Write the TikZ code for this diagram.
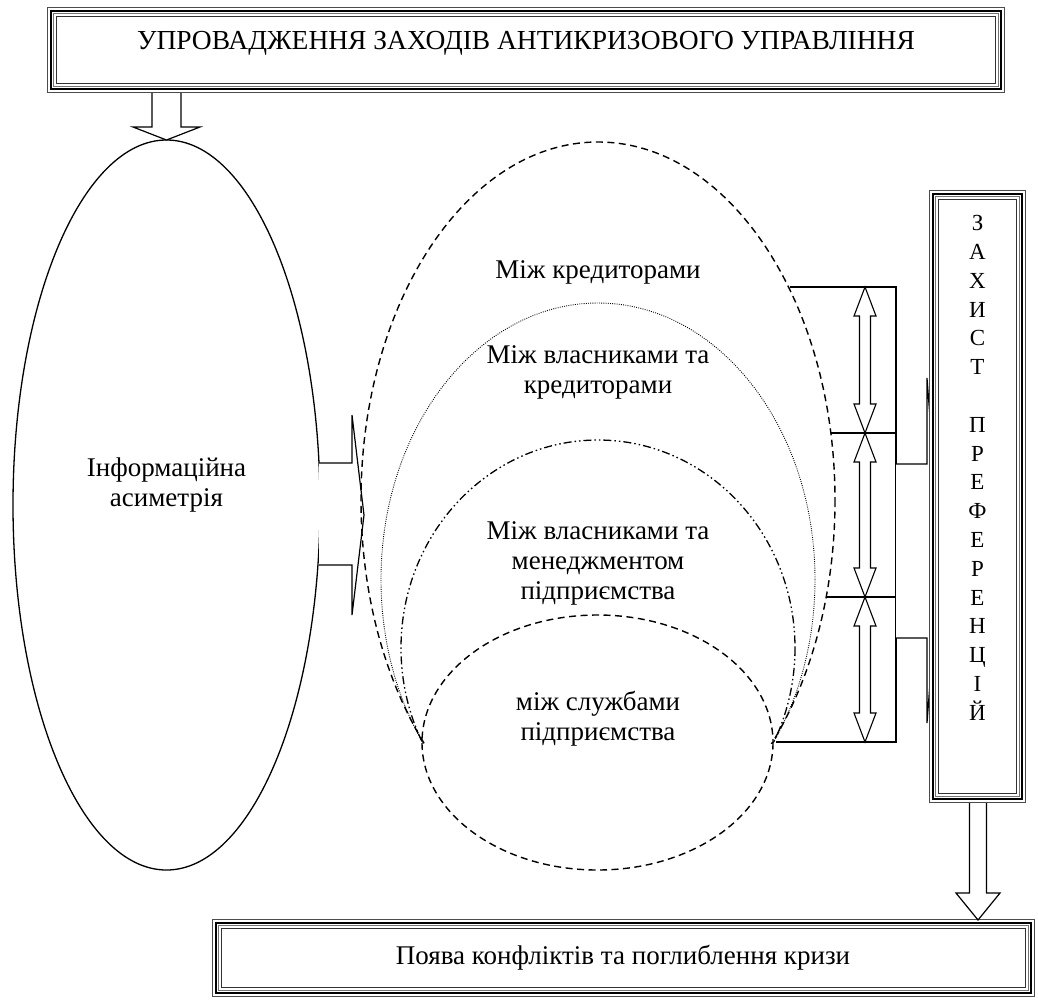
\documentclass[tikz,border=0pt]{standalone}
\usepackage{fontspec}
\setmainfont{Liberation Serif}
\newfontfamily\tnr{Liberation Serif}
\newcommand\triframe[4]{%
  \fill[white] (#1,#2) rectangle (#3,#4);
  \draw[line width=1.2pt, black!70] (#1+0.6,#2+0.6) rectangle (#3-0.6,#4-0.6);
  \draw[line width=2.4pt] (#1+3.8,#2+3.8) rectangle (#3-3.8,#4-3.8);
  \draw[line width=1pt, black!55] (#1+6.8,#2+6.8) rectangle (#3-6.8,#4-6.8);
  \draw[line width=1pt, black!80] (#1+9.5,#2+9.5) rectangle (#3-9.5,#4-9.5);
}
\newcommand\dblarr[2]{%
  \draw[barrow, line width=1.1pt] (865,#1) -- (876,#1+29) -- (870.5,#1+29) -- (870.5,#2-29) -- (876,#2-29) -- (865,#2) -- (854,#2-29) -- (859.5,#2-29) -- (859.5,#1+29) -- (854,#1+29) -- cycle;
}
\begin{document}
\begin{tikzpicture}[x=1pt,y=-1pt,
  txt/.style={font=\tnr\fontsize{27}{30}\selectfont, align=center, inner sep=0pt},
  vlet/.style={font=\tnr\fontsize{23}{26}\selectfont, inner sep=0pt, text height=15.5pt, text depth=0pt},
  ln/.style={line width=1.3pt},
  barrow/.style={line width=1.2pt, fill=white, line join=miter},
  dsh/.style={line width=1.4pt, dash pattern=on 7pt off 4.5pt},
  dtt/.style={line width=0.9pt, dash pattern=on 0.9pt off 1.3pt},
  ddot/.style={line width=1.3pt, dash pattern=on 8pt off 3pt on 1.5pt off 3pt on 1.5pt off 3pt},
]
\useasboundingbox (0,0) rectangle (1038,999);
\fill[white] (0,0) rectangle (1038,999);

% top box
\triframe{47}{7}{1005}{93}
\node[txt, font=\tnr\fontsize{27.5}{30}\selectfont] (top) at (526,43) {УПРОВАДЖЕННЯ ЗАХОДІВ АНТИКРИЗОВОГО УПРАВЛІННЯ};

% left ellipse
\coordinate (ellc) at (166.5,505);
\draw[ln] (ellc) ellipse [x radius=153.5, y radius=365];
\node[txt] (info) at (166.5,485) {Інформаційна\\асиметрія};

% arrow from top box to ellipse
\coordinate (ta1) at (166.5,93);
\coordinate (ta2) at (166.5,140);
\draw[barrow] (152,93) -- (152,127) -- (133,127) -- (ta2) -- (200,127) -- (181,127) -- (181,93);

% arrow from left ellipse to middle
\coordinate (la) at (364,515);
\draw[barrow] (319,463) -- (352,463) -- (352,415) -- (la) -- (352,615) -- (352,565) -- (319,565);

% middle ellipses
\begin{scope}
  \clip (300,100) rectangle (900,743);
  \draw[dsh] (598,500) ellipse [x radius=237, y radius=358];
  \draw[dtt] (598,579.5) ellipse [x radius=217, y radius=276.5];
  \draw[ddot] (598,648) ellipse [x radius=197, y radius=208];
\end{scope}
\draw[dsh] (597.5,742.5) ellipse [x radius=175.5, y radius=127.5];

\node[txt] (t1) at (598,272) {Між кредиторами};
\node[txt] (t2) at (598,372) {Між власниками та\\кредиторами};
\node[txt] (t3) at (598,563) {Між власниками та\\менеджментом\\підприємства};
\node[txt] (t4) at (598,719) {між службами\\підприємства};

% right connectors
\coordinate (r1) at (790,287);
\coordinate (r2) at (831,433);
\coordinate (r3) at (826,597);
\coordinate (r4) at (776,742);
\draw[ln] (r1) -- (896,287) -- (896,742) -- (r4);
\draw[ln] (r2) -- (896,433);
\draw[ln] (r3) -- (896,597);
\dblarr{287}{433}
\dblarr{433}{597}
\dblarr{597}{742}

% arrow into right box
\coordinate (ra) at (940,550);
\draw[barrow] (896,464) -- (927,464) -- (927,378) -- (ra) -- (927,723) -- (927,638) -- (896,638);

% right box
\triframe{929}{190}{1026}{803}
\foreach \l [count=\i] in {З,А,Х,И,С,Т,{},П,Р,Е,Ф,Е,Р,Е,Н,Ц,І,Й}
  \node[vlet] (z\i) at (977.5,{223+(\i-1)*28.8}) {\l};

% bottom box
\triframe{212}{919}{1035}{997}
\node[txt] (bot) at (623,958) {Поява конфліктів та поглиблення кризи};

% arrow from right box to bottom box
\coordinate (da) at (978,920);
\draw[barrow] (969.5,803) -- (969.5,893) -- (956,893) -- (da) -- (1000,893) -- (986.5,893) -- (986.5,803);
\end{tikzpicture}
\end{document}
